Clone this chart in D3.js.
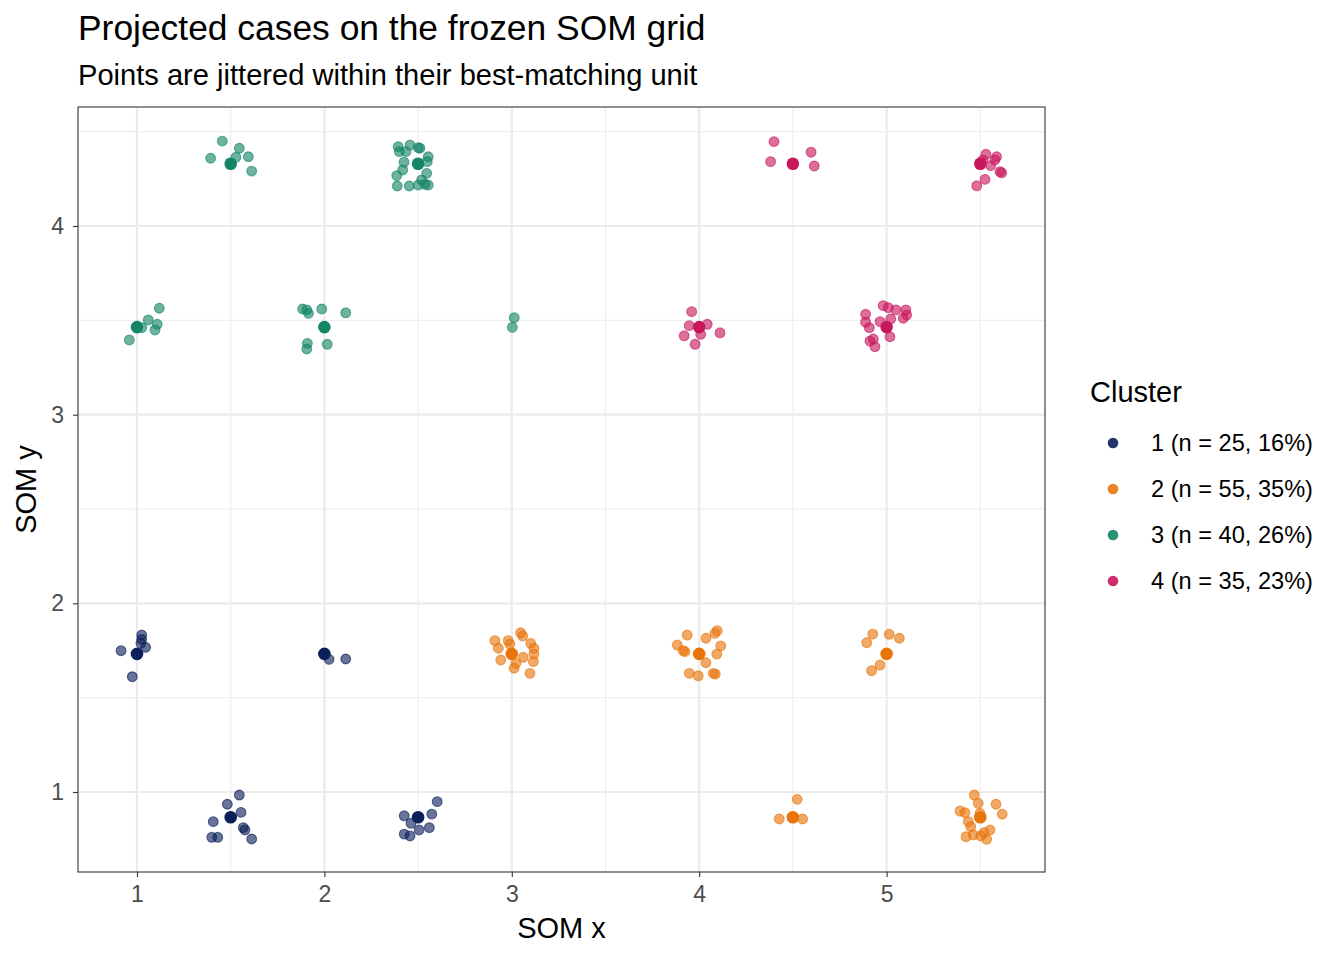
<!DOCTYPE html>
<html>
<head>
<meta charset="utf-8">
<script src="https://cdn.jsdelivr.net/npm/d3@7"></script>
<style>
  body { margin: 0; background: #fff; }
  svg { font-family: "Liberation Sans", Arial, sans-serif; }
</style>
</head>
<body>
<svg id="chart" width="1344" height="960"></svg>
<script>
// cluster labels and colours
const clusters = [1, 2, 3, 4];
const clusterLabels = ["1 (n = 25, 16%)", "2 (n = 55, 35%)", "3 (n = 40, 26%)", "4 (n = 35, 23%)"];
const clusterColors = ["#0B1F5B", "#E8750A", "#148565", "#C8175D"];

const xTicks = [1, 2, 3, 4, 5];
const yTicks = [1, 2, 3, 4];
const xMinor = [1.5, 2.5, 3.5, 4.5, 5.5];
const yMinor = [1.5, 2.5, 3.5, 4.5];

// SOM unit codes (dark markers)
const unitX = [1.5, 2.5, 4.5, 5.5, 1, 2, 4, 5, 1, 2, 3, 4, 5, 1.5, 2.5, 4.5, 5.5];
const unitY = [4.33, 4.33, 4.33, 4.33, 3.464, 3.464, 3.464, 3.464, 1.732, 1.732, 1.732, 1.732, 1.732, 0.866, 0.866, 0.866, 0.866];
const unitCluster = [3, 3, 4, 4, 3, 3, 4, 4, 1, 1, 2, 2, 2, 1, 1, 2, 2];

// jittered cases, cluster 1
const c1x = [1.025, 1.025, 1.021, 1.046, 0.915, 0.975,
  2.025, 2.114,
  1.546, 1.482, 1.555, 1.407, 1.567, 1.576, 1.612, 1.399, 1.431,
  2.602, 2.573, 2.426, 2.462, 2.560, 2.505, 2.426, 2.457];
const c1y = [1.832, 1.809, 1.788, 1.767, 1.749, 1.611,
  1.703, 1.705,
  0.984, 0.935, 0.892, 0.843, 0.811, 0.799, 0.751, 0.760, 0.760,
  0.949, 0.883, 0.874, 0.834, 0.811, 0.799, 0.777, 0.767];

// cluster 2
const c2x = [2.910, 2.928, 2.981, 2.990, 3.047, 3.058, 3.101, 3.118, 3.118, 3.061, 2.941, 3.022, 3.012, 3.115, 3.097,
  3.936, 4.036, 4.084, 4.096, 3.883, 3.915, 3.924, 4.115, 4.094, 4.036, 3.947, 3.995, 4.075, 4.086,
  4.926, 4.894, 5.014, 5.068, 4.965, 4.920,
  4.523, 4.427, 4.552,
  5.468, 5.489, 5.584, 5.617, 5.392, 5.418, 5.498, 5.436, 5.449, 5.552, 5.520, 5.424, 5.463, 5.502, 5.534];
const c2y = [1.802, 1.762, 1.802, 1.784, 1.844, 1.827, 1.788, 1.762, 1.731, 1.714, 1.700, 1.682, 1.656, 1.691, 1.629,
  1.832, 1.815, 1.841, 1.855, 1.779, 1.749, 1.744, 1.774, 1.731, 1.685, 1.629, 1.616, 1.629, 1.625,
  1.837, 1.791, 1.836, 1.815, 1.673, 1.643,
  0.961, 0.857, 0.857,
  0.984, 0.940, 0.935, 0.882, 0.899, 0.890, 0.887, 0.843, 0.816, 0.799, 0.784, 0.763, 0.772, 0.767, 0.749];

// cluster 3
const c3x = [1.455, 1.393, 1.546, 1.528, 1.594, 1.612,
  2.394, 2.457, 2.501, 2.510, 2.400, 2.435, 2.554, 2.549, 2.425, 2.418, 2.386, 2.546, 2.519, 2.537, 2.554, 2.501, 2.453, 2.389,
  1.119, 1.060, 1.108, 1.096, 1.025, 0.959,
  1.884, 1.906, 1.915, 1.986, 2.114, 1.909, 1.906, 2.015,
  3.013, 3.003];
const c3y = [4.450, 4.359, 4.412, 4.364, 4.367, 4.291,
  4.420, 4.429, 4.415, 4.412, 4.394, 4.394, 4.367, 4.341, 4.338, 4.297, 4.267, 4.279, 4.244, 4.221, 4.217, 4.217, 4.212, 4.212,
  3.564, 3.502, 3.479, 3.449, 3.461, 3.396,
  3.560, 3.555, 3.537, 3.560, 3.540, 3.378, 3.348, 3.373,
  3.514, 3.463];

// cluster 4
const c4x = [4.399, 4.381, 4.597, 4.614,
  5.530, 5.587, 5.578, 5.555, 5.605, 5.614, 5.525, 5.481, 5.514,
  3.960, 3.947, 4.043, 3.920, 4.008, 4.111, 3.978,
  4.982, 5.009, 5.050, 5.103, 5.107, 5.089, 4.888, 4.888, 4.965, 5.022, 4.908, 5.018, 4.911, 4.929, 4.938];
const c4y = [4.447, 4.341, 4.391, 4.318,
  4.380, 4.367, 4.350, 4.320, 4.288, 4.282, 4.247, 4.213, 4.350,
  3.546, 3.472, 3.479, 3.418, 3.426, 3.434, 3.373,
  3.578, 3.567, 3.555, 3.555, 3.528, 3.511, 3.532, 3.490, 3.493, 3.507, 3.461, 3.413, 3.390, 3.401, 3.360];

const points = [];
[[c1x, c1y, 1], [c2x, c2y, 2], [c3x, c3y, 3], [c4x, c4y, 4]].forEach(([xs, ys, c]) => {
  xs.forEach((x, i) => points.push({ x, y: ys[i], cluster: c }));
});
const units = unitX.map((x, i) => ({ x, y: unitY[i], cluster: unitCluster[i] }));

const svg = d3.select("#chart");
const panel = { left: 78, right: 1045, top: 107, bottom: 872 };

const x = d3.scaleLinear().domain([0.6852, 5.8453]).range([panel.left, panel.right]);
const y = d3.scaleLinear().domain([0.576, 4.6307]).range([panel.bottom, panel.top]);
const color = d3.scaleOrdinal().domain(clusters).range(clusterColors);

// panel grid
const grid = svg.append("g");
grid.selectAll(".xminor").data(xMinor.filter((d) => x(d) < panel.right)).join("line")
  .attr("x1", (d) => x(d)).attr("x2", (d) => x(d))
  .attr("y1", panel.top).attr("y2", panel.bottom)
  .attr("stroke", "#ebebeb").attr("stroke-width", 1);
grid.selectAll(".yminor").data(yMinor).join("line")
  .attr("y1", (d) => y(d)).attr("y2", (d) => y(d))
  .attr("x1", panel.left).attr("x2", panel.right)
  .attr("stroke", "#ebebeb").attr("stroke-width", 1);
grid.selectAll(".xmajor").data(xTicks).join("line")
  .attr("x1", (d) => x(d)).attr("x2", (d) => x(d))
  .attr("y1", panel.top).attr("y2", panel.bottom)
  .attr("stroke", "#ebebeb").attr("stroke-width", 2.2);
grid.selectAll(".ymajor").data(yTicks).join("line")
  .attr("y1", (d) => y(d)).attr("y2", (d) => y(d))
  .attr("x1", panel.left).attr("x2", panel.right)
  .attr("stroke", "#ebebeb").attr("stroke-width", 2.2);

// jittered cases
svg.append("g").selectAll("circle").data(points).join("circle")
  .attr("cx", (d) => x(d.x)).attr("cy", (d) => y(d.y))
  .attr("r", 4.9)
  .attr("fill", (d) => color(d.cluster)).attr("fill-opacity", 0.62)
  .attr("stroke", (d) => color(d.cluster)).attr("stroke-opacity", 0.62)
  .attr("stroke-width", 1.1);

// unit markers
svg.append("g").selectAll("circle").data(units).join("circle")
  .attr("cx", (d) => x(d.x)).attr("cy", (d) => y(d.y))
  .attr("r", 6.3)
  .attr("fill", (d) => color(d.cluster));

// axes
const xAxis = svg.append("g")
  .attr("transform", `translate(0,${panel.bottom})`)
  .call(d3.axisBottom(x).tickValues(xTicks).tickSize(5).tickPadding(9).tickFormat(d3.format("d")));
const yAxis = svg.append("g")
  .attr("transform", `translate(${panel.left},0)`)
  .call(d3.axisLeft(y).tickValues(yTicks).tickSize(5).tickPadding(9).tickFormat(d3.format("d")));
[xAxis, yAxis].forEach((a) => {
  a.select(".domain").remove();
  a.selectAll(".tick line").attr("stroke", "#333").attr("stroke-width", 1.1);
  a.selectAll(".tick text").attr("fill", "#4d4d4d").attr("font-size", 23)
    .attr("font-family", "Liberation Sans, Arial, sans-serif");
});

// panel border
svg.append("rect")
  .attr("x", panel.left).attr("y", panel.top)
  .attr("width", panel.right - panel.left).attr("height", panel.bottom - panel.top)
  .attr("fill", "none").attr("stroke", "#333").attr("stroke-width", 1.1);

// titles
svg.append("text").attr("x", 78).attr("y", 40)
  .attr("font-size", 35.4).attr("fill", "#000")
  .text("Projected cases on the frozen SOM grid");
svg.append("text").attr("x", 78).attr("y", 85)
  .attr("font-size", 29.1).attr("fill", "#000")
  .text("Points are jittered within their best-matching unit");
svg.append("text").attr("x", (panel.left + panel.right) / 2).attr("y", 938)
  .attr("text-anchor", "middle").attr("font-size", 29)
  .text("SOM x");
svg.append("text")
  .attr("transform", `translate(36,${(panel.top + panel.bottom) / 2}) rotate(-90)`)
  .attr("text-anchor", "middle").attr("font-size", 29)
  .text("SOM y");

// legend
const legend = svg.append("g").attr("transform", "translate(1090,0)");
legend.append("text").attr("x", 0).attr("y", 402).attr("font-size", 29).text("Cluster");
const item = legend.selectAll(".item").data(clusters).join("g")
  .attr("transform", (d, i) => `translate(0,${443 + i * 46})`);
item.append("circle").attr("cx", 23).attr("cy", 0).attr("r", 5.3)
  .attr("fill", (d) => color(d)).attr("fill-opacity", 0.9);
item.append("text").attr("x", 61).attr("y", 0).attr("dy", "0.35em")
  .attr("font-size", 23.6).text((d, i) => clusterLabels[i]);
</script>
</body>
</html>
